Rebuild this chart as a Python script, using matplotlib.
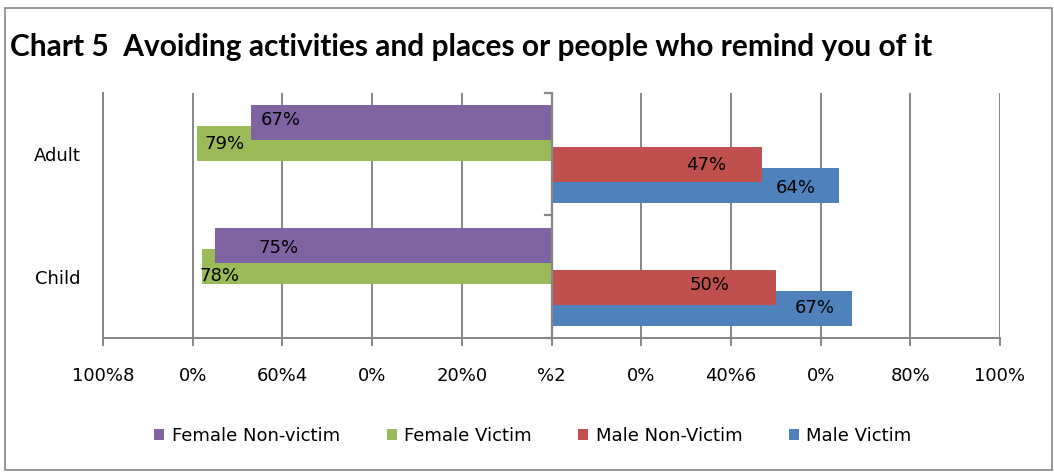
import matplotlib.pyplot as plt
import numpy as np
from matplotlib.patches import Rectangle
from matplotlib.lines import Line2D
from matplotlib.transforms import ScaledTranslation

# data
categories = ["Adult", "Child"]
series = ["Female Non-victim", "Female Victim", "Male Non-Victim", "Male Victim"]
female_nonvictim = [67, 75]
female_victim = [79, 78]
male_nonvictim = [47, 50]
male_victim = [64, 67]
# females are drawn to the left of zero
signs = [-1, -1, 1, 1]
colors = ["#8064A2", "#9BBB59", "#C0504D", "#4F81BD"]

tick_values = [-100, -80, -60, -40, -20, 0, 20, 40, 60, 80, 100]
tick_labels = ["100%8", "0%", "60%4", "0%", "20%0", "%2", "0%", "40%6", "0%", "80%", "100%"]

# label nudges in pixels (inward from bar end, vertical)
label_nudge = [
    [(30, -3), (63, 3)],
    [(27, 0), (18, 10)],
    [(56, 0), (66, -2)],
    [(43, 2), (37, 0)],
]

gray = "#868686"
plt.rcParams["font.family"] = "DejaVu Sans"

fig = plt.figure(figsize=(10.54, 4.73), dpi=100)
ax = fig.add_axes([103 / 1054, 1 - 338 / 473, 897 / 1054, 245 / 473])

y = np.arange(len(categories))
height = 0.286
step = 0.171
all_vals = [female_nonvictim, female_victim, male_nonvictim, male_victim]

for i, (vals, name, col, s) in enumerate(zip(all_vals, series, colors, signs)):
    pos = y + (i - 1.5) * step
    bars = ax.barh(pos, [s * v for v in vals], height=height, color=col,
                   label=name, zorder=10 - i)
    for j, v in enumerate(vals):
        dx, dy = label_nudge[i][j]
        ax.annotate(f"{v}%", xy=(s * v, pos[j]), xytext=(-s * dx, -dy),
                    textcoords="offset pixels", ha="center", va="center",
                    fontsize=13, color="black", zorder=15)

ax.set_xlim(-100, 100)
ax.set_ylim(1.5, -0.5)
ax.set_xticks(tick_values)
ax.set_xticklabels(tick_labels, fontsize=13)
shift = ScaledTranslation(5 / 100, 0, fig.dpi_scale_trans)
for lbl in ax.get_xticklabels():
    lbl.set_transform(lbl.get_transform() + shift)
ax.set_yticks(y)
ax.set_yticklabels(categories, fontsize=13)
ax.tick_params(axis="y", length=0, pad=16)
ax.tick_params(axis="x", length=6, width=1.4, color=gray, pad=15, direction="out")
ax.grid(axis="x", color=gray, linewidth=1.4, zorder=0)
ax.set_axisbelow(True)
for sp in ["top", "right"]:
    ax.spines[sp].set_visible(False)
for sp in ["left", "bottom"]:
    ax.spines[sp].set_color(gray)
    ax.spines[sp].set_linewidth(1.4)

# centre category axis with small ticks at category boundaries
ax.axvline(0, color=gray, linewidth=1.6, zorder=12)
for yb in [-0.5, 0.5, 1.5]:
    ax.add_line(Line2D([-1.5, 0], [yb, yb], color=gray, linewidth=1.6,
                       zorder=12, clip_on=False))

fig.text(10 / 1054, 1 - 56 / 473,
         "Chart 5  Avoiding activities and places or people who remind you of it",
         fontsize=21.5, fontweight="bold", family=["Lato", "DejaVu Sans"],
         va="baseline", ha="left")

ax.legend(loc="center", bbox_to_anchor=(533 / 1054, 1 - 436 / 473),
          bbox_transform=fig.transFigure, ncol=4, frameon=False, fontsize=13,
          handlelength=0.55, handleheight=0.55, handletextpad=0.4,
          columnspacing=2.6)

fig.add_artist(Rectangle((5 / 1054, 3 / 473), 1047 / 1054, 462 / 473,
                         transform=fig.transFigure, fill=False,
                         edgecolor=gray, linewidth=1.2))

fig.savefig("out.png", dpi=100)
